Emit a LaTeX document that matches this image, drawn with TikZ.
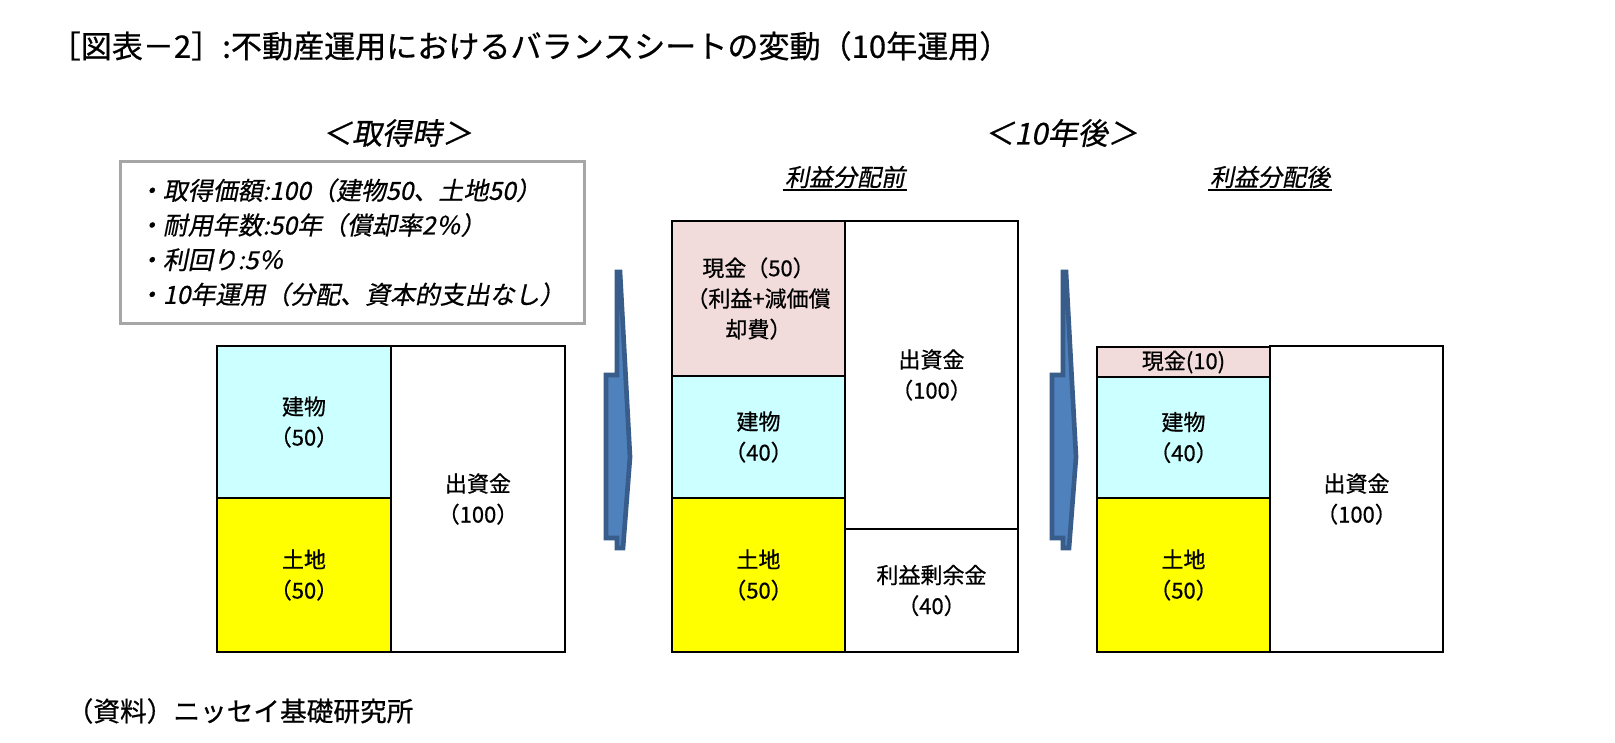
\documentclass[tikz,border=0pt]{standalone}
\usepackage{fontspec}
\setmainfont{Noto Sans CJK JP}[FakeBold=0.6]
\newfontfamily\slantjp{Noto Sans CJK JP}[FakeSlant=0.2,FakeBold=0.6]
\usepackage{xcolor}
\usepackage{tikz}
\definecolor{cellCyan}{RGB}{204,255,255}
\definecolor{cellYellow}{RGB}{255,255,0}
\definecolor{cellPink}{RGB}{242,220,219}
\definecolor{arrowEdge}{RGB}{56,93,138}
\definecolor{arrowFill}{RGB}{79,129,189}
\definecolor{boxGray}{RGB}{166,166,166}

\begin{document}
\begin{tikzpicture}[x=0.75pt,y=-0.75pt]
\tikzset{
    sheet cell/.style={
        rectangle, draw=black, line width=1.6pt,
        minimum width=130pt, inner sep=0pt,
        align=center, font=\fontsize{16.5}{23}\selectfont
    },
    building cell/.style={sheet cell, fill=cellCyan},
    land cell/.style={sheet cell, fill=cellYellow, minimum height=115.5pt},
    cash cell/.style={sheet cell, fill=cellPink},
    equity cell/.style={sheet cell, fill=white},
    info box/.style={
        rectangle, draw=boxGray, line width=2pt,
        minimum width=348pt, minimum height=121.5pt, inner sep=0pt
    },
    info text/.style={
        align=left, inner sep=0pt,
        font=\slantjp\fontsize{18.7}{26}\selectfont
    },
    period title/.style={font=\slantjp\fontsize{22.5}{26}\selectfont},
    sub title/.style={font=\slantjp\fontsize{18}{21}\selectfont, inner sep=1.5pt},
    underline rule/.style={line width=1.5pt},
    block arrow/.style={draw=arrowEdge, fill=arrowFill, line width=3.5pt, line join=miter}
}
\useasboundingbox (0,0) rectangle (1615,742);
\fill[white] (0,0) rectangle (1615,742);

% Titlu
\node[anchor=west, font=\fontsize{23.3}{27}\selectfont] (title) at (45,46)
    {［図表－2］:不動産運用におけるバランスシートの変動（10年運用）};

% Titluri perioade
\node[period title] (acq)   at (397,133)  {＜取得時＞};
\node[period title] (later) at (1061,133) {＜10年後＞};
\node[sub title] (pre)  at (845,177)  {利益分配前};
\node[sub title] (post) at (1270,177) {利益分配後};
\draw[underline rule] (pre.south west)  -- (pre.south east);
\draw[underline rule] (post.south west) -- (post.south east);

% Conditii
\node[info box, anchor=north west] (info) at (119,160) {};
\node[info text, anchor=west] (infotext) at ([xshift=14pt]info.west)
    {・取得価額:100（建物50、土地50）\\
     ・耐用年数:50年（償却率2％）\\
     ・利回り:5％\\
     ・10年運用（分配、資本的支出なし）};

% Bilant la achizitie
\node[building cell, minimum height=114pt]   (bldgA) at (304,422)   {建物\\（50）};
\node[land cell]                             (landA) at (304,575)   {土地\\（50）};
\node[equity cell, minimum height=229.5pt]   (capA)  at (478,499)   {出資金\\（100）};

% Bilant dupa 10 ani, inainte de distribuire
\node[cash cell, minimum height=116.25pt]    (cashB) at (758.5,298.5) {現金（50）\\（利益+減価償\\却費）};
\node[building cell, minimum height=91.5pt]  (bldgB) at (758.5,437)   {建物\\（40）};
\node[land cell]                             (landB) at (758.5,575)   {土地\\（50）};
\node[equity cell, minimum height=231pt]     (capB)  at (931.5,375)   {出資金\\（100）};
\node[equity cell, minimum height=92.25pt]   (reB)   at (931.5,590.5) {利益剰余金\\（40）};

% Bilant dupa distribuire
\node[cash cell, minimum height=22.5pt]      (cashC) at (1183.5,362)  {現金(10)};
\node[building cell, minimum height=90.75pt] (bldgC) at (1183.5,437.5) {建物\\（40）};
\node[land cell]                             (landC) at (1183.5,575)  {土地\\（50）};
\node[equity cell, minimum height=229.5pt]   (capC)  at (1356.5,499)  {出資金\\（100）};

% Sageti bloc
\foreach \dx in {0,446}
    \draw[block arrow] ({617+\dx},272) -- ({620+\dx},272) -- ({630+\dx},457)
        -- ({623+\dx},548) -- ({617+\dx},548) -- ({617+\dx},538) -- ({606+\dx},538)
        -- ({606+\dx},375) -- ({617+\dx},375) -- cycle;

% Sursa
\node[anchor=west, font=\fontsize{20}{24}\selectfont] (source) at (62,711)
    {（資料）ニッセイ基礎研究所};
\end{tikzpicture}
\end{document}
